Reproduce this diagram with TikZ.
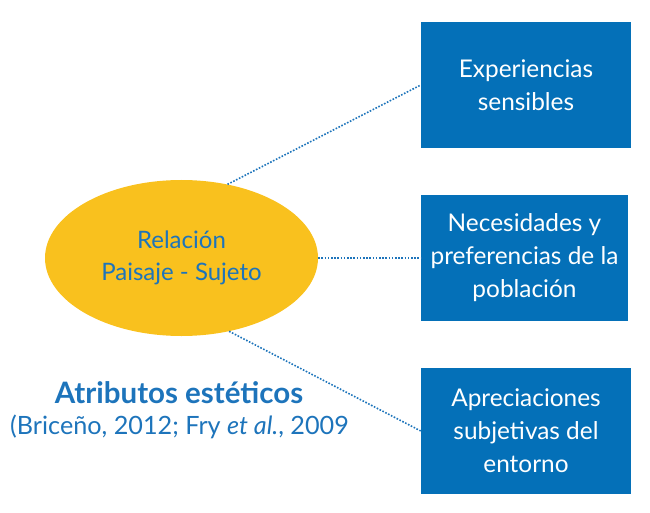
\documentclass[tikz,border=0pt]{standalone}
\usepackage{fontspec}
\setmainfont{Lato}
\usetikzlibrary{shapes.geometric}
\definecolor{boxblue}{HTML}{0470B8}
\definecolor{txtblue}{HTML}{1D74BB}
\definecolor{sunyellow}{HTML}{F9C11E}
\begin{document}
\begin{tikzpicture}[x=1pt,y=-1pt,
  boxnode/.style={fill=boxblue,text=white,minimum width=210pt,minimum height=126pt,inner sep=0pt,align=center,font=\fontsize{24.4}{33}\selectfont},
  ellnode/.style={ellipse,fill=sunyellow,text=txtblue,minimum width=273pt,minimum height=156pt,inner sep=0pt,align=center,font=\fontsize{24}{32.5}\selectfont},
  dotline/.style={draw=txtblue,line width=1.6pt,dash pattern=on 1.6pt off 1.6pt}]
\useasboundingbox (0,0) rectangle (650,513);
\node[ellnode] (ell) at (181.5,258) {Relación\\Paisaje - Sujeto};
\node[boxnode] (b1) at (526,85) {Experiencias\\sensibles};
\node[boxnode,minimum width=207pt] (b2) at (524.5,258) {Necesidades y\\preferencias de la\\población};
\node[boxnode] (b3) at (526,431) {Apreciaciones\\subjetivas del\\entorno};
\draw[dotline] (ell.58) -- (b1.west);
\draw[dotline] (ell.east) -- (b2.west);
\draw[dotline] (ell.-57) -- (b3.west);
\node[text=txtblue,font=\fontsize{29.5}{32}\selectfont\bfseries,anchor=base] (attr) at (179,403) {Atributos estéticos};
\node[text=txtblue,font=\fontsize{25.2}{30}\selectfont,anchor=base west,inner sep=0pt] (cite) at (10,434) {(Briceño, 2012; Fry \textit{et al.}, 2009};
\end{tikzpicture}
\end{document}
